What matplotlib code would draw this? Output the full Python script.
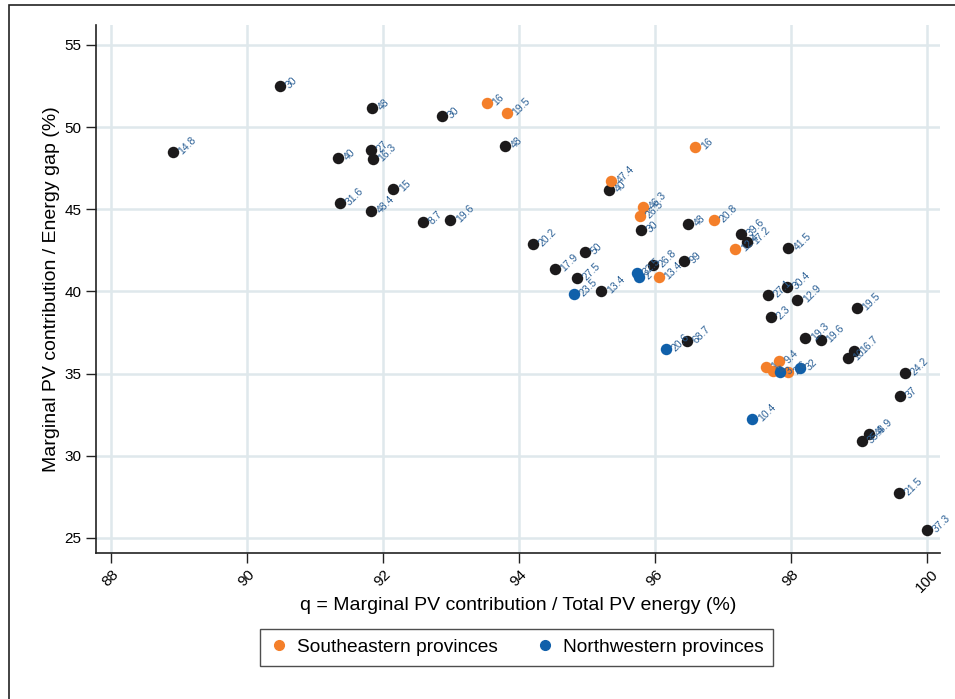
import matplotlib
matplotlib.use('Agg')
from matplotlib import pyplot as plt
from matplotlib.patches import Rectangle
from matplotlib.lines import Line2D

plt.rcParams['font.family'] = ['Liberation Sans', 'DejaVu Sans']

# provinces in neither group (black)
otros_x = [88.91, 90.49, 91.84, 92.87, 91.34, 91.82, 91.85, 92.15, 91.37, 91.82,
           92.59, 92.99, 93.79, 95.32, 94.21, 94.97, 94.53, 94.85, 95.21, 95.79,
           96.49, 95.97, 96.43, 96.47, 97.26, 97.35, 97.96, 97.66, 97.94, 98.09,
           97.71, 98.97, 98.21, 98.44, 98.93, 98.84, 99.68, 99.60, 99.15, 99.04,
           99.59, 100.0]
otros_y = [48.49, 52.50, 51.17, 50.68, 48.12, 48.61, 48.06, 46.24, 45.38, 44.90,
           44.23, 44.35, 48.85, 46.17, 42.89, 42.40, 41.37, 40.82, 40.03, 43.74,
           44.11, 41.61, 41.85, 36.98, 43.50, 43.01, 42.64, 39.78, 40.27, 39.48,
           38.44, 38.99, 37.17, 37.05, 36.38, 35.95, 35.04, 33.64, 31.32, 30.90,
           27.73, 25.48]
otros_lab = ['14.8', '30', '48', '30', '40', '27', '16.3', '15', '31.6', '48.4',
             '8.7', '19.6', '48', '40', '20.2', '50', '17.9', '27.5', '13.4', '30',
             '48', '26.8', '99', '68.7', '39.6', '17.2', '41.5', '27.1', '30.4', '12.9',
             '2.3', '19.5', '19.3', '19.6', '16.7', '10', '24.2', '37', '48.9', '35.4',
             '21.5', '37.3']

# Southeastern provinces (orange)
se_x = [93.53, 93.82, 96.59, 95.35, 95.82, 95.78, 96.87, 97.18, 96.06,
        97.63, 97.82, 97.74, 97.96]
se_y = [51.47, 50.86, 48.79, 46.72, 45.14, 44.59, 44.35, 42.58, 40.88,
        35.40, 35.77, 35.16, 35.10]
se_lab = ['16', '19.5', '16', '47.4', '46.3', '26.5', '20.8', '12.4', '13.4',
          '1', '9.4', '4', '2.6']

# Northwestern provinces (blue)
nw_x = [94.81, 95.74, 95.76, 96.16, 97.84, 98.13, 97.43]
nw_y = [39.84, 41.12, 40.88, 36.50, 35.10, 35.34, 32.24]
nw_lab = ['23.5', '32.5', '2', '20.6', '3', '32', '10.4']

xticks = [88, 90, 92, 94, 96, 98, 100]
yticks = [25, 30, 35, 40, 45, 50, 55]

negro = '#1c1a1b'
naranja = '#f47f2a'
azul = '#1060aa'
etiq = '#2a5f95'
grilla = '#dfe8ec'

fig = plt.figure(figsize=(9.55, 6.99), dpi=100)
ax = fig.add_axes([0.1005, 0.209, 0.8835, 0.755])

ax.scatter(otros_x, otros_y, s=68, color=negro, zorder=3, linewidths=0)
ax.scatter(se_x, se_y, s=68, color=naranja, zorder=3, linewidths=0)
ax.scatter(nw_x, nw_y, s=68, color=azul, zorder=3, linewidths=0)

for xs, ys, labs in [(otros_x, otros_y, otros_lab), (se_x, se_y, se_lab), (nw_x, nw_y, nw_lab)]:
    for xx, yy, ll in zip(xs, ys, labs):
        ax.annotate(ll, (xx, yy), xytext=(5.5, -0.5), textcoords='offset points',
                    rotation=45, rotation_mode='anchor', ha='left', va='center',
                    fontsize=7.5, color=etiq, zorder=4)

ax.set_xlim(87.78, 100.19)
ax.set_ylim(24.09, 56.2)
ax.set_xticks(xticks)
ax.set_yticks(yticks)
ax.tick_params(axis='x', labelrotation=45, length=7, width=1, labelsize=11, color='#222222')
ax.tick_params(axis='y', length=7, width=1, labelsize=11, color='#222222')
for lbl in ax.get_xticklabels():
    lbl.set_ha('center')
ax.grid(True, color=grilla, linewidth=1.8, zorder=0)
ax.set_axisbelow(True)
for lado in ['top', 'right']:
    ax.spines[lado].set_visible(False)
for lado in ['left', 'bottom']:
    ax.spines[lado].set_linewidth(1.2)
    ax.spines[lado].set_color('#222222')

ax.set_xlabel('q = Marginal PV contribution / Total PV energy (%)', fontsize=14, labelpad=1)
ax.set_ylabel('Marginal PV contribution / Energy gap (%)', fontsize=14, labelpad=3)

handles = [Line2D([], [], marker='o', linestyle='', color=naranja, markersize=7),
           Line2D([], [], marker='o', linestyle='', color=azul, markersize=7)]
leg = fig.legend(handles, ['Southeastern provinces', 'Northwestern provinces'],
                 loc='center', bbox_to_anchor=(0.541, 0.074), ncol=2, fontsize=13.8,
                 frameon=True, fancybox=False, edgecolor='#222222',
                 handletextpad=0.4, columnspacing=2.0, borderpad=0.5, handlelength=1.0)
leg.get_frame().set_linewidth(1.0)

fig.patches.append(Rectangle((0.0094, -0.05), 1.2, 1.0428, transform=fig.transFigure,
                             fill=False, edgecolor='#222222', linewidth=1.2))

plt.savefig('out.png', dpi=100)
